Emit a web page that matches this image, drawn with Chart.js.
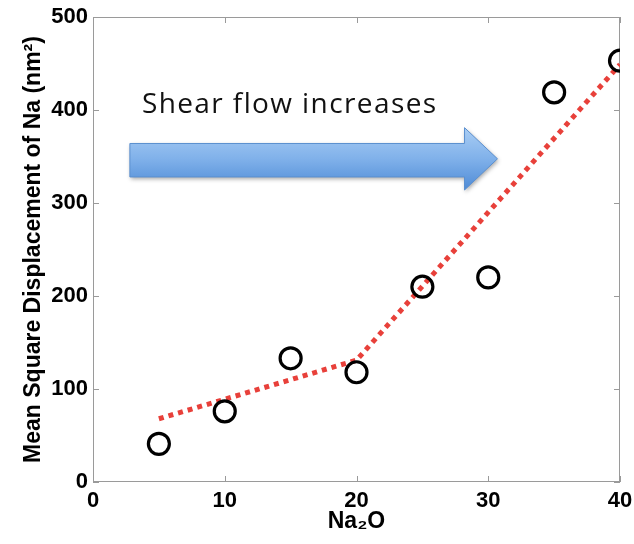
<!DOCTYPE html>
<html>
<head>
<meta charset="utf-8">
<script src="https://cdn.jsdelivr.net/npm/chart.js@4"></script>
<style>
  html, body { margin: 0; padding: 0; background: #fff; }
  #wrap { width: 634px; height: 544px; }
</style>
</head>
<body>
<div id="wrap"><canvas id="msdChart" width="634" height="544"></canvas></div>
<script>
// Na2O content (x) and mean square displacement of Na (y)
const na2oContent = [5, 10, 15, 20, 25, 30, 35, 40];
const msdValues = [41, 76, 133, 118, 210, 220, 419, 453];

// piecewise linear fit (red dotted)
const fitX = [5, 20, 40];
const fitY = [68, 131, 449];

const xTicks = [0, 10, 20, 30, 40];
const yTicks = [0, 100, 200, 300, 400, 500];

// annotation arrow in data units: shaft from x0 to x1, head to tip
const arrowText = "Shear flow increases";
const arrowX = [2.8, 28.2, 30.7];
const arrowShaftY = [364, 328];
const arrowHeadY = [381, 314];

const frameColor = "#9a9a9a";
const tickFont = { family: "Liberation Sans", size: 22, weight: "bold" };

// frame box + inner ticks like the original plot
const framePlugin = {
  id: "frame",
  beforeDatasetsDraw(chart) {
    const { ctx, chartArea: a, scales } = chart;
    ctx.save();
    ctx.strokeStyle = frameColor;
    ctx.lineWidth = 1;
    ctx.strokeRect(a.left + 0.5, a.top + 0.5, a.right - a.left - 1, a.bottom - a.top - 1);
    ctx.beginPath();
    xTicks.forEach((v) => {
      const px = Math.round(scales.x.getPixelForValue(v)) + 0.5;
      ctx.moveTo(px, a.bottom); ctx.lineTo(px, a.bottom - 6);
      ctx.moveTo(px, a.top); ctx.lineTo(px, a.top + 6);
    });
    yTicks.forEach((v) => {
      const py = Math.round(scales.y.getPixelForValue(v)) + 0.5;
      ctx.moveTo(a.left, py); ctx.lineTo(a.left + 6, py);
      ctx.moveTo(a.right, py); ctx.lineTo(a.right - 6, py);
    });
    ctx.stroke();
    ctx.restore();
  },
};

// blue gradient arrow with caption
const arrowPlugin = {
  id: "arrow",
  afterDatasetsDraw(chart) {
    const { ctx, scales } = chart;
    const x0 = scales.x.getPixelForValue(arrowX[0]);
    const x1 = scales.x.getPixelForValue(arrowX[1]);
    const x2 = scales.x.getPixelForValue(arrowX[2]);
    const sTop = scales.y.getPixelForValue(arrowShaftY[0]);
    const sBot = scales.y.getPixelForValue(arrowShaftY[1]);
    const hTop = scales.y.getPixelForValue(arrowHeadY[0]);
    const hBot = scales.y.getPixelForValue(arrowHeadY[1]);
    const mid = (hTop + hBot) / 2;

    ctx.save();
    ctx.beginPath();
    ctx.moveTo(x0, sTop);
    ctx.lineTo(x1, sTop);
    ctx.lineTo(x1, hTop);
    ctx.lineTo(x2, mid);
    ctx.lineTo(x1, hBot);
    ctx.lineTo(x1, sBot);
    ctx.lineTo(x0, sBot);
    ctx.closePath();
    const grad = ctx.createLinearGradient(0, hTop, 0, hBot);
    grad.addColorStop(0, "#a9cdf4");
    grad.addColorStop(0.5, "#80b1ea");
    grad.addColorStop(1, "#4f8bd6");
    ctx.shadowColor = "rgba(0,0,0,0.35)";
    ctx.shadowBlur = 4;
    ctx.shadowOffsetX = 1;
    ctx.shadowOffsetY = 2;
    ctx.fillStyle = grad;
    ctx.fill();
    ctx.shadowColor = "transparent";
    ctx.strokeStyle = "#5a8fcf";
    ctx.lineWidth = 1;
    ctx.stroke();

    ctx.fillStyle = "#111";
    ctx.font = "28px 'Open Sans'";
    ctx.letterSpacing = "1.4px";
    ctx.textBaseline = "alphabetic";
    ctx.fillText(arrowText, x0 + 12, sTop - 30);
    ctx.restore();
  },
};

new Chart(document.getElementById("msdChart"), {
  type: "scatter",
  data: {
    datasets: [
      {
        type: "line",
        label: "fit",
        data: fitX.map((x, i) => ({ x, y: fitY[i] })),
        borderColor: "#e8403a",
        borderWidth: 5,
        borderDash: [5, 5],
        borderCapStyle: "butt",
        pointRadius: 0,
        fill: false,
        tension: 0,
        order: 2,
      },
      {
        label: "MSD",
        data: na2oContent.map((x, i) => ({ x, y: msdValues[i] })),
        pointStyle: "circle",
        pointRadius: 10.5,
        pointBorderWidth: 3.2,
        borderColor: "#000",
        backgroundColor: "rgba(0,0,0,0)",
        order: 1,
      },
    ],
  },
  options: {
    responsive: false,
    animation: false,
    layout: { padding: { left: 0, right: 14, top: 17, bottom: 0 } },
    plugins: {
      legend: { display: false },
      tooltip: { enabled: false },
    },
    scales: {
      x: {
        type: "linear",
        min: 0,
        max: 40,
        border: { display: false },
        grid: { display: false, drawTicks: false },
        afterBuildTicks: (scale) => { scale.ticks = xTicks.map((v) => ({ value: v })); },
        afterFit: (scale) => {
          scale.height = 62;
          scale.paddingLeft = 0;
          scale.paddingRight = 0;
        },
        ticks: { color: "#000", font: tickFont, padding: 6, maxRotation: 0 },
        title: {
          display: true,
          text: "Na\u2082O",
          color: "#000",
          font: { family: "Liberation Sans", size: 23, weight: "bold" },
          padding: { top: 0, bottom: 9 },
        },
      },
      y: {
        type: "linear",
        min: 0,
        max: 500,
        border: { display: false },
        grid: { display: false, drawTicks: false },
        afterBuildTicks: (scale) => { scale.ticks = yTicks.map((v) => ({ value: v })); },
        afterFit: (scale) => {
          scale.width = 93;
          scale.paddingTop = 0;
          scale.paddingBottom = 0;
        },
        ticks: { color: "#000", font: tickFont, padding: 5 },
        title: {
          display: true,
          text: "Mean Square Displacement of Na (nm\u00b2)",
          color: "#000",
          font: { family: "Liberation Sans", size: 23, weight: "bold" },
          padding: { top: 20, bottom: 0 },
        },
      },
    },
  },
  plugins: [framePlugin, arrowPlugin],
});
</script>
</body>
</html>
